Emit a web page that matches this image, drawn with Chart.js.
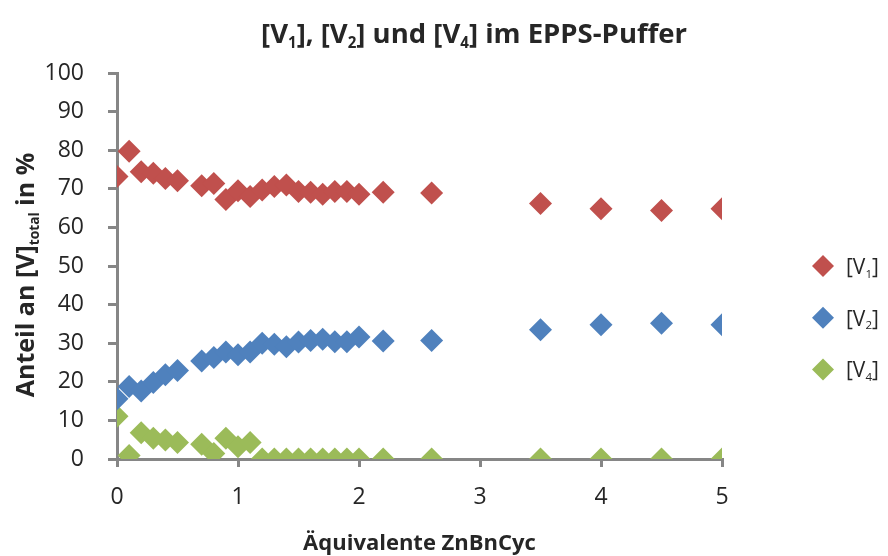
<!DOCTYPE html>
<html>
<head>
<meta charset="utf-8">
<script src="https://cdn.jsdelivr.net/npm/chart.js@4"></script>
<style>
  body { margin: 0; background: #fff; }
  #box { width: 888px; height: 556px; }
</style>
</head>
<body>
<div id="box"><canvas id="myChart"></canvas></div>
<script>
// Äquivalente ZnBnCyc (x) und Anteile in %
var aequivalente = [0, 0.1, 0.2, 0.3, 0.4, 0.5, 0.7, 0.8, 0.9, 1.0, 1.1, 1.2, 1.3, 1.4, 1.5, 1.6, 1.7, 1.8, 1.9, 2.0, 2.2, 2.6, 3.5, 4.0, 4.5, 5.0];
var anteilV1 = [73.2, 79.7, 74.4, 74.0, 72.7, 72.1, 70.8, 71.4, 67.2, 69.5, 68.0, 69.7, 70.6, 71.0, 69.3, 69.1, 68.6, 69.3, 69.3, 68.6, 69.1, 68.9, 66.2, 64.8, 64.4, 64.8];
var anteilV2 = [15.6, 18.8, 17.6, 19.8, 21.8, 22.9, 25.4, 26.3, 27.7, 27.0, 27.7, 30.0, 29.7, 29.1, 30.3, 30.7, 31.0, 30.4, 30.4, 31.6, 30.6, 30.7, 33.5, 34.8, 35.2, 34.8];
var anteilV4 = [11.1, 0.9, 6.8, 5.4, 4.9, 4.3, 3.8, 1.4, 5.4, 3.2, 4.3, 0, 0, 0, 0, 0, 0, 0, 0, 0, 0, 0, 0, 0, 0, 0];

var serien = ['V1', 'V2', 'V4'];
var farben = ['#C0504D', '#4F81BD', '#9BBB59'];

var schrift = "'Open Sans', sans-serif";
var textFarbe = '#262626';
var achsenFarbe = '#868686';

function punkte(werte) {
    return aequivalente.map(function (x, i) { return { x: x, y: werte[i] }; });
}

// Text mit tiefgestellten Teilen zeichnen: teile = [[text, tief], ...]
function richText(ctx, teile, x, y, groesse, gewicht, ausrichtung) {
    var breite = 0;
    teile.forEach(function (t) {
        ctx.font = gewicht + ' ' + (t[1] ? groesse * 0.55 : groesse) + 'px ' + schrift;
        breite += ctx.measureText(t[0]).width;
    });
    var px = ausrichtung === 'center' ? x - breite / 2 : x;
    ctx.textAlign = 'left';
    ctx.textBaseline = 'alphabetic';
    teile.forEach(function (t) {
        ctx.font = gewicht + ' ' + (t[1] ? groesse * 0.55 : groesse) + 'px ' + schrift;
        ctx.fillText(t[0], px, t[1] ? y + groesse * 0.18 : y);
        px += ctx.measureText(t[0]).width;
    });
}

var beschriftung = {
    id: 'beschriftung',
    afterDraw: function (chart) {
        var ctx = chart.ctx;
        var area = chart.chartArea;
        ctx.save();
        ctx.fillStyle = textFarbe;

        // Titel
        richText(ctx, [['[V', false], ['1', true], ['], [V', false], ['2', true], ['] und [V', false], ['4', true], ['] im EPPS-Puffer', false]],
            474, 43, 27.5, 'bold', 'center');

        // x-Achsentitel
        richText(ctx, [['Äquivalente ZnBnCyc', false]], (area.left + area.right) / 2, 550, 22, 'bold', 'center');

        // y-Achsentitel
        ctx.save();
        ctx.translate(34, 275);
        ctx.rotate(-Math.PI / 2);
        richText(ctx, [['Anteil an [V]', false], ['total', true], [' in %', false]], 0, 0, 25, 'bold', 'center');
        ctx.restore();

        // Legende
        chart.data.datasets.forEach(function (ds, i) {
            var y = 266 + i * 51.7;
            ctx.beginPath();
            ctx.moveTo(823, y - 11);
            ctx.lineTo(834, y);
            ctx.lineTo(823, y + 11);
            ctx.lineTo(812, y);
            ctx.closePath();
            ctx.fillStyle = ds.backgroundColor;
            ctx.fill();
            ctx.fillStyle = textFarbe;
            richText(ctx, [['[V', false], [serien[i].slice(1), true], [']', false]], 846, y + 8, 21, 'normal', 'left');
        });
        ctx.restore();
    }
};

var ctx = document.getElementById('myChart').getContext('2d');

var myChart = new Chart(ctx, {
    type: 'scatter',
    data: {
        datasets: [anteilV1, anteilV2, anteilV4].map(function (werte, i) {
            return {
                label: '[' + serien[i] + ']',
                data: punkte(werte),
                backgroundColor: farben[i],
                borderWidth: 0,
                pointStyle: 'rectRot',
                pointRadius: 11.5
            };
        })
    },
    options: {
        responsive: true,
        maintainAspectRatio: false,
        animation: false,
        layout: { padding: { left: 0, right: 166, top: 73, bottom: 0 } },
        plugins: {
            legend: { display: false },
            title: { display: false },
            tooltip: { enabled: false }
        },
        scales: {
            x: {
                type: 'linear',
                min: 0,
                max: 5,
                ticks: { stepSize: 1, color: textFarbe, font: { family: schrift, size: 23 }, padding: 17 },
                grid: { drawOnChartArea: false, drawTicks: true, tickLength: 8, color: achsenFarbe, lineWidth: 3 },
                border: { color: achsenFarbe, width: 3 },
                afterFit: function (scale) { scale.height = 97; }
            },
            y: {
                min: 0,
                max: 100,
                ticks: { stepSize: 10, color: textFarbe, font: { family: schrift, size: 23 }, padding: 24 },
                grid: { drawOnChartArea: false, drawTicks: true, tickLength: 9, color: achsenFarbe, lineWidth: 3 },
                border: { color: achsenFarbe, width: 3 },
                afterFit: function (scale) { scale.width = 117; }
            }
        }
    },
    plugins: [beschriftung]
});
</script>
</body>
</html>
